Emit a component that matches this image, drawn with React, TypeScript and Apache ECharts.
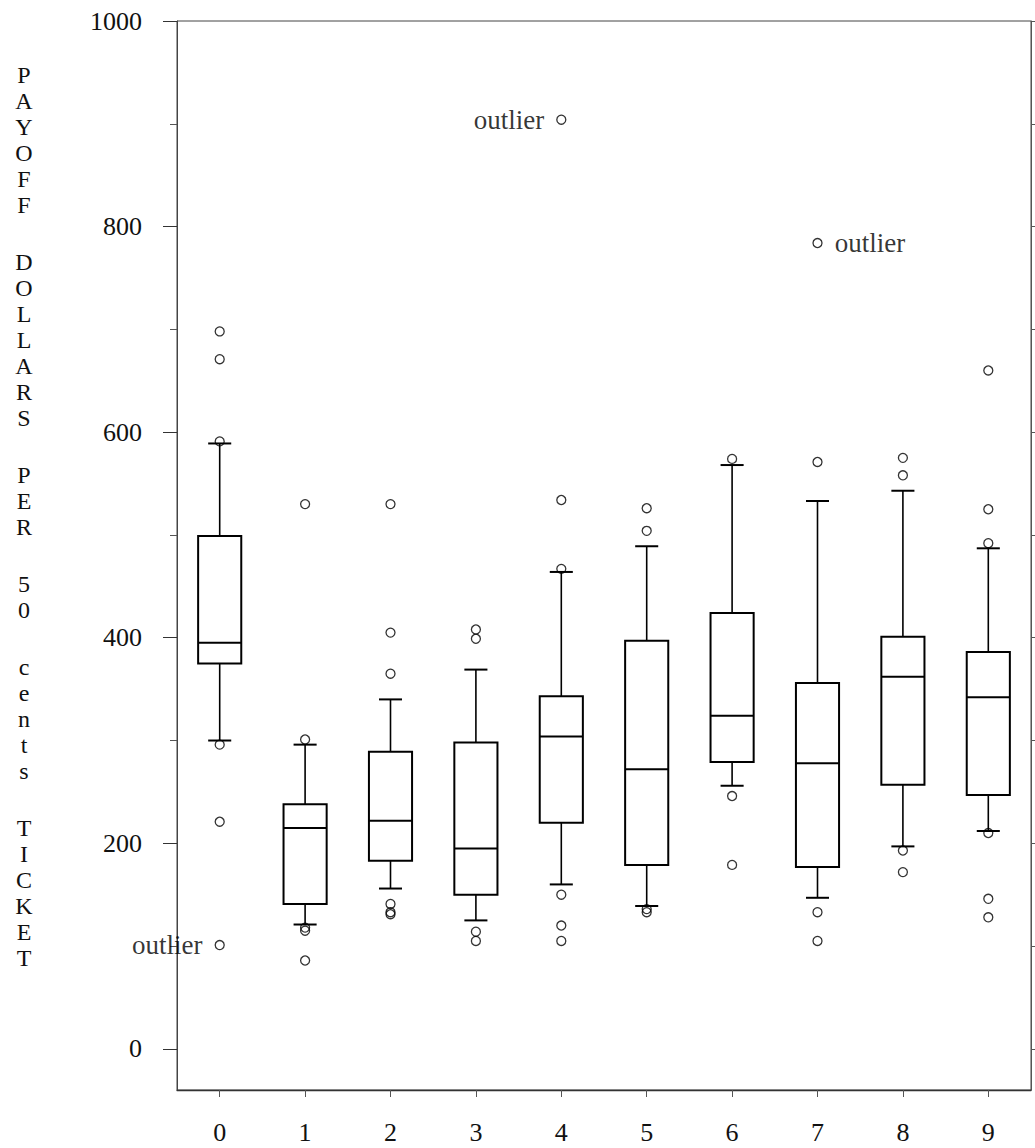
import React, { useEffect, useRef } from 'react';
import * as echarts from 'echarts';

const categories = ['0', '1', '2', '3', '4', '5', '6', '7', '8', '9'];
const lowerWhisker = [300, 121, 156, 125, 160, 139, 256, 147, 197, 212];
const firstQuartile = [375, 141, 183, 150, 220, 179, 279, 177, 257, 247];
const medians = [395, 215, 222, 195, 304, 272, 324, 278, 362, 342];
const thirdQuartile = [499, 238, 289, 298, 343, 397, 424, 356, 401, 386];
const upperWhisker = [589, 296, 340, 369, 464, 489, 568, 533, 543, 487];

const outliers0 = [698, 671, 591, 296, 221];
const outliers1 = [530, 301, 118, 115, 86];
const outliers2 = [530, 405, 365, 141, 133, 131];
const outliers3 = [408, 399, 114, 105];
const outliers4 = [534, 467, 150, 120, 105];
const outliers5 = [526, 504, 136, 133];
const outliers6 = [574, 246, 179];
const outliers7 = [571, 133, 105];
const outliers8 = [575, 558, 193, 172];
const outliers9 = [660, 525, 492, 210, 146, 128];
const outliers = [outliers0, outliers1, outliers2, outliers3, outliers4, outliers5, outliers6, outliers7, outliers8, outliers9];

const annotatedCategory = [0, 4, 7];
const annotatedValue = [101, 904, 784];
const annotationText = 'outlier';

const yLabelTicks = [0, 200, 400, 600, 800, 1000];
const yMinorTicks = [100, 300, 500, 700, 900];
const yAllTicks = [0, 100, 200, 300, 400, 500, 600, 700, 800, 900, 1000];
const yTitleWords = ['PAYOFF', 'DOLLARS', 'PER', '50', 'cents', 'TICKET'];

const FONT = '"Liberation Serif", "Times New Roman", "DejaVu Serif", serif';

export default function App() {
  const ref = useRef<HTMLDivElement>(null);
  useEffect(() => {
    const chart = echarts.init(ref.current as HTMLDivElement, null, { renderer: 'svg' });

    const titleChildren: any[] = [];
    let y = 75;
    yTitleWords.forEach((w) => {
      for (const ch of w) {
        titleChildren.push({
          type: 'text',
          x: 24,
          y,
          style: {
            text: ch,
            fill: '#111',
            fontSize: 24,
            fontFamily: FONT,
            lineHeight: 24,
            align: 'center',
            verticalAlign: 'middle',
            textAlign: 'center',
            textVerticalAlign: 'middle',
          },
        });
        y += 26;
      }
      y += 31;
    });

    const boxData = categories.map((_, i) => [
      i,
      lowerWhisker[i],
      firstQuartile[i],
      medians[i],
      thirdQuartile[i],
      upperWhisker[i],
    ]);

    const outlierData: number[][] = [];
    outliers.forEach((vals, i) => vals.forEach((v) => outlierData.push([i, v])));

    const sides = ['left', 'left', 'right'];
    const annotatedData = annotatedCategory.map((c, k) => ({
      value: [c, annotatedValue[k]],
      label: { position: sides[k] },
    }));

    const axisColor = '#333';

    const option: any = {
      animation: false,
      backgroundColor: '#fff',
      grid: {
        left: 177,
        right: 4,
        top: 21,
        bottom: 58,
        show: true,
        borderColor: '#444',
        borderWidth: 1,
        containLabel: false,
      },
      xAxis: {
        type: 'category',
        data: categories,
        boundaryGap: true,
        axisLine: { show: true, onZero: false, lineStyle: { color: axisColor, width: 1.3 } },
        axisTick: { show: true, alignWithLabel: true, length: 7, lineStyle: { color: '#555' } },
        axisLabel: { color: '#111', fontFamily: FONT, fontSize: 26, margin: 29 },
        splitLine: { show: false },
      },
      yAxis: [
        {
          type: 'value',
          min: -40,
          max: 1000,
          position: 'left',
          axisLine: { show: true, lineStyle: { color: '#444', width: 1 } },
          axisTick: { show: true, length: 14, customValues: yLabelTicks, lineStyle: { color: '#333' } },
          axisLabel: {
            color: '#111',
            fontFamily: FONT,
            fontSize: 26,
            margin: 35,
            customValues: yLabelTicks,
            formatter: (v: number) => String(v),
          },
          splitLine: { show: false },
        },
        {
          type: 'value',
          min: -40,
          max: 1000,
          position: 'left',
          axisLine: { show: false },
          axisTick: { show: true, length: 7, customValues: yMinorTicks, lineStyle: { color: '#555' } },
          axisLabel: { show: false },
          splitLine: { show: false },
        },
        {
          type: 'value',
          min: -40,
          max: 1000,
          position: 'right',
          axisLine: { show: true, lineStyle: { color: '#555', width: 1 } },
          axisTick: { show: true, length: 4, customValues: yAllTicks, lineStyle: { color: '#555' } },
          axisLabel: { show: false },
          splitLine: { show: false },
        },
      ],
      series: [
        {
          type: 'custom',
          xAxisIndex: 0,
          yAxisIndex: 0,
          encode: { x: 0, y: [1, 2, 3, 4, 5] },
          data: boxData,
          renderItem: (params: any, api: any) => {
            const i = api.value(0);
            const pLo = api.coord([i, api.value(1)]);
            const pQ1 = api.coord([i, api.value(2)]);
            const pMed = api.coord([i, api.value(3)]);
            const pQ3 = api.coord([i, api.value(4)]);
            const pHi = api.coord([i, api.value(5)]);
            const band = api.size([1, 0])[0];
            const cx = pMed[0];
            const bw = band * 0.505;
            const cw = band * 0.27;
            const stroke = '#000';
            return {
              type: 'group',
              children: [
                { type: 'line', shape: { x1: cx, y1: pQ3[1], x2: cx, y2: pHi[1] }, style: { stroke, lineWidth: 1.6 } },
                { type: 'line', shape: { x1: cx, y1: pQ1[1], x2: cx, y2: pLo[1] }, style: { stroke, lineWidth: 1.6 } },
                { type: 'line', shape: { x1: cx - cw / 2, y1: pHi[1], x2: cx + cw / 2, y2: pHi[1] }, style: { stroke, lineWidth: 2 } },
                { type: 'line', shape: { x1: cx - cw / 2, y1: pLo[1], x2: cx + cw / 2, y2: pLo[1] }, style: { stroke, lineWidth: 2 } },
                {
                  type: 'rect',
                  shape: { x: cx - bw / 2, y: pQ3[1], width: bw, height: pQ1[1] - pQ3[1] },
                  style: { fill: 'transparent', stroke, lineWidth: 2 },
                },
                { type: 'line', shape: { x1: cx - bw / 2, y1: pMed[1], x2: cx + bw / 2, y2: pMed[1] }, style: { stroke, lineWidth: 2 } },
              ],
            };
          },
          z: 2,
        },
        {
          type: 'scatter',
          xAxisIndex: 0,
          yAxisIndex: 0,
          data: outlierData,
          symbol: 'circle',
          symbolSize: 9,
          itemStyle: { color: 'transparent', borderColor: '#000', borderWidth: 1.3 },
          z: 3,
        },
        {
          type: 'scatter',
          xAxisIndex: 0,
          yAxisIndex: 0,
          data: annotatedData,
          symbol: 'circle',
          symbolSize: 9,
          itemStyle: { color: 'transparent', borderColor: '#000', borderWidth: 1.3 },
          label: {
            show: true,
            formatter: annotationText,
            color: '#000',
            fontFamily: FONT,
            fontSize: 27,
            distance: 12,
          },
          z: 3,
        },
      ],
      graphic: [{ type: 'group', children: titleChildren }],
    };

    chart.setOption(option);
    return () => chart.dispose();
  }, []);

  return (
    <div
      ref={ref}
      style={{ position: 'fixed', left: 0, top: 0, width: 1035, height: 1148, background: '#fff' }}
    />
  );
}
